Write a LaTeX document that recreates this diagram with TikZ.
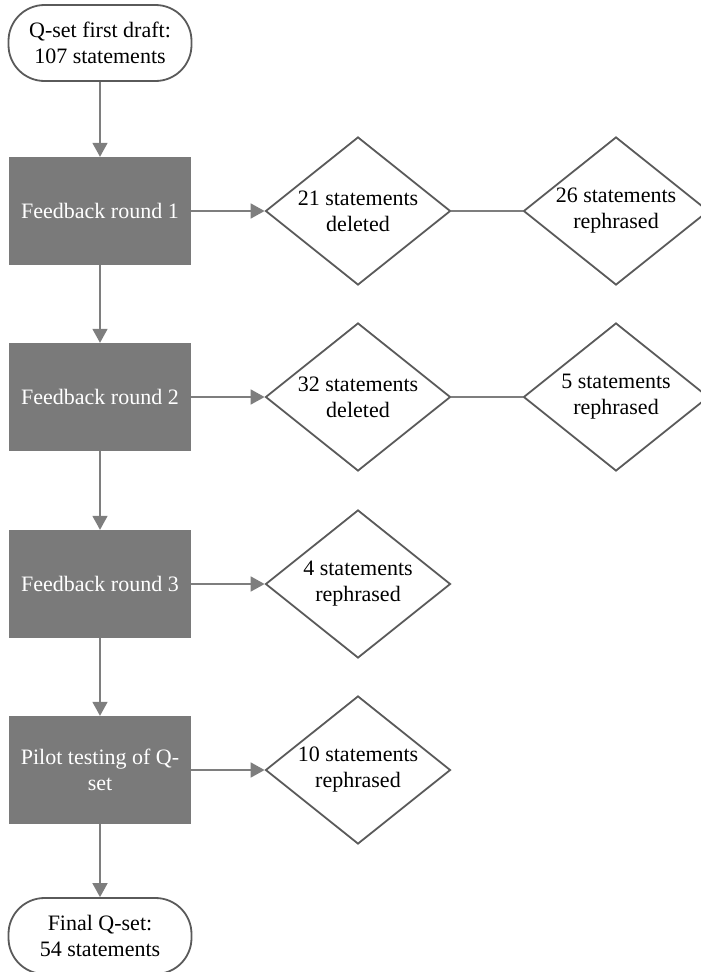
\documentclass[tikz,border=0pt]{standalone}
\usepackage{fontspec}
\setmainfont{Liberation Serif}
\usetikzlibrary{shapes.geometric,arrows.meta}
\definecolor{boxgray}{HTML}{7A7A7A}
\definecolor{linegray}{HTML}{7E7E7E}
\definecolor{edgegray}{HTML}{5A5A5A}
\begin{document}
\begin{tikzpicture}[x=1pt,y=-1pt,
  txt/.style={font=\fontsize{22}{26}\selectfont, align=center},
  term/.style={txt, draw=edgegray, line width=1.8pt, rectangle, rounded corners=36pt,
    minimum width=183pt, minimum height=76pt, inner sep=0pt},
  procbox/.style={txt, fill=boxgray, text=white, rectangle,
    minimum width=182pt, minimum height=108pt, inner sep=0pt},
  dia/.style={txt, draw=edgegray, line width=1.8pt, diamond, aspect=1.26,
    minimum width=185pt, minimum height=148pt, inner sep=0pt},
  flow/.style={draw=linegray, line width=1.8pt, -{Triangle[length=14pt,width=15pt]}},
  link/.style={draw=linegray, line width=1.8pt}]
\useasboundingbox (0,0) rectangle (701,972);
\node[term] (start) at (100,43) {Q-set first draft:\\107 statements};
\node[procbox] (fb1) at (100,211) {Feedback round 1};
\node[procbox] (fb2) at (100,397) {Feedback round 2};
\node[procbox] (fb3) at (100,584) {Feedback round 3};
\node[procbox] (pilot) at (100,770) {Pilot testing of Q-\\set};
\node[term] (final) at (100,936) {Final Q-set:\\54 statements};

\node[dia] (d1a) at (358,211) {21 statements\\deleted};
\node[dia] (d1b) at (616,211) {26 statements\\rephrased};
\node[dia] (d2a) at (358,397) {32 statements\\deleted};
\node[dia] (d2b) at (616,397) {5 statements\\rephrased};
\node[dia] (d3) at (358,584) {4 statements\\rephrased};
\node[dia] (d4) at (358,770) {10 statements\\rephrased};

\draw[flow] (start) -- (fb1);
\draw[flow] (fb1) -- (fb2);
\draw[flow] (fb2) -- (fb3);
\draw[flow] (fb3) -- (pilot);
\draw[flow] (pilot) -- (final);

\draw[flow] (fb1) -- (d1a);
\draw[flow] (fb2) -- (d2a);
\draw[flow] (fb3) -- (d3);
\draw[flow] (pilot) -- (d4);
\draw[link] (d1a) -- (d1b);
\draw[link] (d2a) -- (d2b);
\end{tikzpicture}
\end{document}
